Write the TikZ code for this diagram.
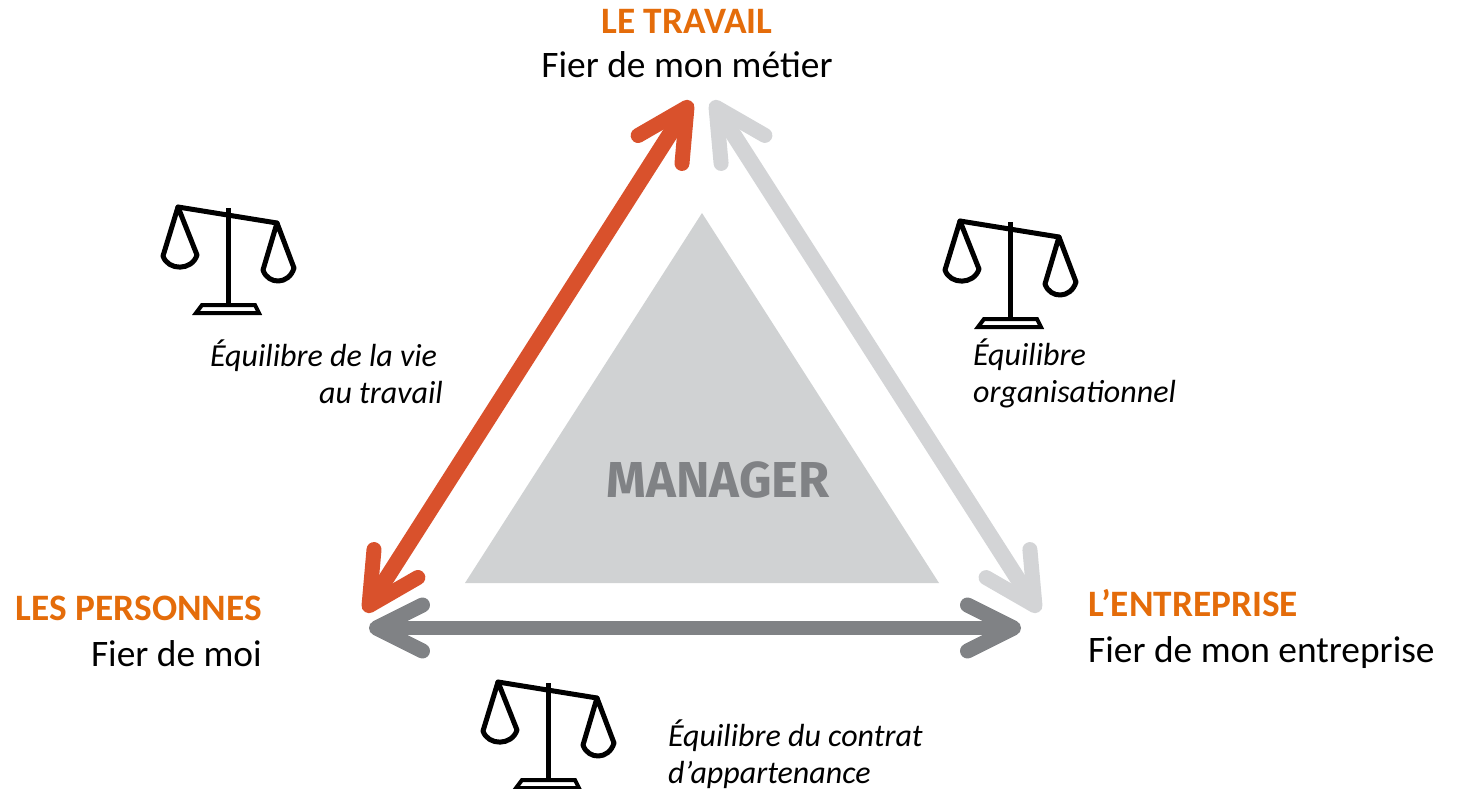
\documentclass[tikz,border=0pt]{standalone}
\usepackage{fontspec}
\setmainfont{Carlito}
\newfontfamily\managerfont{Fira Sans}
\usetikzlibrary{arrows.meta}
\definecolor{orx}{HTML}{E46C0A}
\definecolor{redx}{HTML}{D9512C}
\definecolor{lightx}{HTML}{D3D4D6}
\definecolor{grayx}{HTML}{808285}
\definecolor{coren}{HTML}{D0D2D3}
\tikzset{
    balance/.pic={
        \draw [line width=5pt,line join=round,line cap=round] (-50,-1) -- (49,15);
        \draw [line width=5pt] (0,0) -- (0,97);
        \draw [line width=5pt,line join=round] (-50,-1) -- (-65,48) .. controls (-60,63) and (-36,63) .. (-31,47) -- cycle;
        \draw [line width=5pt,line join=round] (49,15) -- (35,62) .. controls (40,77) and (61,77) .. (66,60) -- cycle;
        \draw [line width=4pt,line join=miter] (-26,97) -- (27,97) -- (31,105) -- (-32,105) -- cycle;
    },
    both/.style={
        line width=13.5pt,
        {Straight Barb[length=46pt,width=46pt,line width=15pt,round]}-{Straight Barb[length=46pt,width=46pt,line width=15pt,round]}
    },
    bothwide/.style={
        line width=16pt,
        {Straight Barb[length=50pt,width=52pt,line width=15pt,round]}-{Straight Barb[length=50pt,width=52pt,line width=15pt,round]}
    },
    head/.style={inner sep=0pt,text=orx,font=\fontsize{37.3}{37.3}\selectfont\bfseries},
    sub/.style={inner sep=0pt,font=\fontsize{37.4}{37.4}\selectfont},
    note/.style={inner sep=0pt,font=\fontsize{32}{32}\selectfont\itshape}
}
\begin{document}
\begin{tikzpicture}[x=1pt,y=-1pt]
    \useasboundingbox (0,0) rectangle (1460,789);
    \clip (0,0) rectangle (1460,789);

    \fill [coren] (702,213) -- (939,583) -- (465,583) -- cycle;
    \node (manager) at (718,480) {\managerfont\fontsize{50.5}{50.5}\selectfont\bfseries\color{grayx}MANAGER};

    \coordinate (travailr) at (691,101);
    \coordinate (personnesr) at (365,612);
    \coordinate (travailg) at (712,101);
    \coordinate (entrepriseg) at (1039,612);
    \coordinate (personnesb) at (369,628);
    \coordinate (entrepriseb) at (1021,628);

    \draw [bothwide,lightx] (travailg) -- (entrepriseg);
    \draw [bothwide,redx] (travailr) -- (personnesr);
    \draw [both,grayx] (personnesb) -- (entrepriseb);

    \node [head,anchor=base] (travail) at (687,34) {LE TRAVAIL};
    \node [sub,anchor=base] (metier) at (687,78) {Fier de mon métier};
    \node [head,anchor=base east] (personnes) at (262,620) {LES PERSONNES};
    \node [sub,anchor=base east] (moi) at (262,666) {Fier de moi};
    \node [head,anchor=base west] (entreprise) at (1088,616) {L’ENTREPRISE};
    \node [sub,anchor=base west] (monentreprise) at (1088,662) {Fier de mon entreprise};

    \pic at (228,208) {balance};
    \pic at (1010,222) {balance};
    \pic at (548,683) {balance};

    \node [note,anchor=base west] (vie) at (210,366) {Équilibre de la vie};
    \node [note,anchor=base east] (autravail) at (443,403) {au travail};
    \node [note,anchor=base west] (equilibre) at (973,365) {Équilibre};
    \node [note,anchor=base west] (organisation) at (973,402) {organisationnel};
    \node [note,anchor=base west] (contrat) at (668,746) {Équilibre du contrat};
    \node [note,anchor=base west] (appartenance) at (668,783) {d’appartenance};
\end{tikzpicture}
\end{document}
